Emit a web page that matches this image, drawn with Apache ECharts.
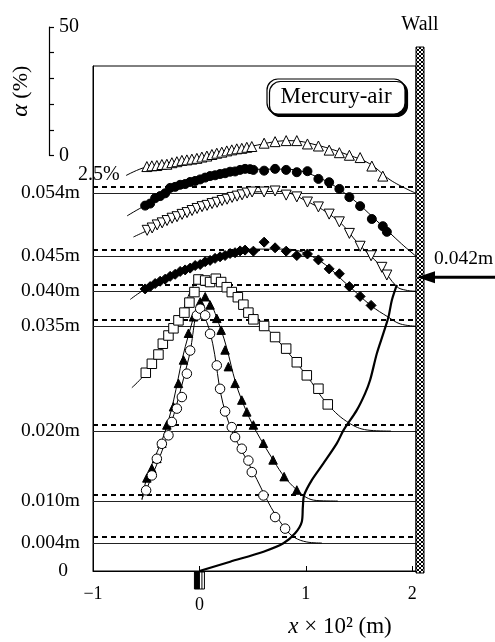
<!DOCTYPE html>
<html><head><meta charset="utf-8">
<script src="https://cdn.jsdelivr.net/npm/echarts@6/dist/echarts.min.js"></script>
<style>html,body{margin:0;padding:0;background:#fff}#c{width:495px;height:642px}</style>
</head><body><div id="c"></div>
<script>
// ---------- data ----------
const heights = [0.054, 0.045, 0.040, 0.035, 0.020, 0.010, 0.004];   // measuring heights (m)
const heightLabels = [0, 0.004, 0.010, 0.020, 0.035, 0.040, 0.045, 0.054];
const xTickLabels = [-1, 0, 1, 2];
const alphaScaleMax = 50;              // α scale bar (%)
const alphaScaleLabels = [0, 50];
const dashOffsetPct = 2.5;             // dashed line = 2.5 % above each level
const wallX = 2.035;                   // wall position (x×10² m)
const inletHeight = 0.042;             // arrow "0.042m"
const yTop = 0.0722;

// △ at 0.054 m
const triUpX = [-0.494,-0.447,-0.400,-0.353,-0.306,-0.259,-0.212,-0.165,-0.118,-0.071,-0.024,0.023,0.070,0.117,0.163,0.210,0.257,0.304,0.351,0.398,0.445,0.492,0.608,0.711,0.815,0.915,1.015,1.118,1.219,1.315,1.409,1.510,1.620,1.723];
const triUpA = [10.4,10.7,10.8,11.2,11.3,11.9,12.3,12.8,13.0,13.3,13.6,14.1,14.5,15.1,15.6,16.0,16.5,16.9,17.3,17.5,17.9,18.2,19.5,20.1,20.5,20.5,19.2,18.4,16.8,15.8,14.8,13.9,10.6,6.7];
const triUpFitX = [-0.69,-0.494,0,0.5,0.85,1.1,1.4,1.6,1.8,2.035];
const triUpFitA = [6.9,10.3,13.8,18.4,20.5,18.8,14.9,11.5,5.0,0];

// ● at 0.045 m
const dotX = [-0.510,-0.463,-0.416,-0.369,-0.322,-0.275,-0.228,-0.181,-0.134,-0.087,-0.040,0.007,0.054,0.100,0.147,0.194,0.241,0.288,0.335,0.382,0.429,0.476,0.507,0.608,0.711,0.815,0.915,1.015,1.118,1.219,1.315,1.409,1.510,1.620,1.723,1.761];
const dotA = [19.7,20.5,22.6,23.4,24.5,26.6,27.0,27.8,28.1,28.9,29.3,29.9,30.6,31.2,31.5,32.0,32.3,32.9,33.0,33.6,34.0,33.9,33.6,33.3,34.0,33.6,32.7,33.1,30.1,28.8,26.2,23.0,19.5,14.5,11.7,9.5];
const dotFitX = [-0.68,-0.51,0,0.5,0.8,1.1,1.4,1.7,1.9,2.035];
const dotFitA = [15.7,19.7,29.8,33.8,33.9,31.0,23.5,12.5,4.8,0];

// ▽ at 0.040 m
const triDnX = [-0.491,-0.444,-0.397,-0.350,-0.304,-0.257,-0.210,-0.163,-0.116,-0.069,-0.022,0.025,0.072,0.119,0.166,0.213,0.260,0.307,0.354,0.401,0.448,0.495,0.608,0.711,0.815,0.915,1.015,1.118,1.219,1.315,1.409,1.510,1.613,1.714,1.761];
const triDnA = [23.7,24.6,25.8,26.6,27.5,28.4,29.0,29.9,30.6,31.4,32.2,32.9,33.4,34.1,34.6,35.3,35.8,36.5,37.0,37.5,38.2,38.6,38.6,39.0,37.4,36.7,34.7,32.8,30.0,27.0,22.5,17.5,13.8,9.3,6.3];
const triDnFitX = [-0.62,-0.49,0,0.5,0.75,1.0,1.3,1.5,1.7,1.855,1.94,2.035];
const triDnFitA = [21.1,23.6,32.5,38.6,38.8,35.2,27.5,18.2,9.9,1.8,0.4,0];

// ◆ at 0.035 m
const diaX = [-0.510,-0.463,-0.416,-0.369,-0.322,-0.275,-0.228,-0.181,-0.134,-0.087,-0.040,0.007,0.054,0.100,0.147,0.194,0.241,0.288,0.335,0.382,0.429,0.507,0.608,0.711,0.815,0.915,1.015,1.118,1.219,1.315,1.409,1.510,1.613];
const diaA = [14.5,15.4,16.6,17.5,18.3,19.4,20.2,21.3,21.9,22.6,23.6,24.0,25.1,25.6,26.4,27.0,27.5,28.3,28.6,29.3,29.6,29.2,32.7,30.5,29.2,27.5,28.1,25.8,22.3,20.4,15.4,11.6,8.1];
const diaFitX = [-0.65,-0.51,0,0.5,0.8,1.1,1.4,1.613,1.776,1.886,2.035];
const diaFitA = [10.4,14.3,24.0,30.0,30.0,26.2,15.8,8.0,3.5,0.9,0];

// □ at 0.020 m
const sqX = [-0.504,-0.447,-0.385,-0.344,-0.291,-0.244,-0.197,-0.141,-0.094,-0.047,-0.009,0.054,0.100,0.154,0.204,0.257,0.304,0.361,0.413,0.460,0.507,0.608,0.711,0.815,0.915,1.009,1.118,1.206];
const sqA = [22.7,26.2,29.8,34.0,37.2,40.0,43.1,46.1,50.0,54.1,59.0,58.6,58.0,59.3,58.0,56.0,54.1,52.1,49.2,46.1,43.5,40.9,36.6,32.1,26.8,21.7,16.5,10.4];
const sqFitX = [-0.635,-0.504,-0.2,0,0.15,0.4,0.7,1.0,1.206,1.416,1.603,1.8];
const sqFitA = [16.9,22.7,43.0,58.5,59.2,50.0,37.0,22.0,10.4,2.9,0.3,0];

// ▲ at 0.010 m
const triFX = [-0.494,-0.447,-0.400,-0.353,-0.306,-0.244,-0.197,-0.150,-0.103,-0.056,0.007,0.054,0.100,0.163,0.204,0.241,0.272,0.335,0.398,0.445,0.507,0.601,0.692,0.796,0.915];
const triFA = [9.0,12.7,16.6,22.5,29.6,36.7,45.8,54.9,65.3,71.7,77.5,79.5,76.3,71.1,66.5,58.8,52.3,45.8,39.3,34.7,29.6,22.5,16.0,9.5,4.3];
const triFFitX = [-0.54,-0.494,-0.3,-0.1,0.05,0.2,0.4,0.7,0.915,1.103,1.3];
const triFFitA = [0.4,9.0,30.0,65.0,79.0,67.0,39.0,15.5,4.3,0.2,0];

// ○ at 0.004 m
const cirX = [-0.501,-0.447,-0.400,-0.353,-0.291,-0.259,-0.212,-0.165,-0.118,-0.087,-0.024,0.007,0.054,0.100,0.163,0.194,0.241,0.304,0.335,0.398,0.460,0.492,0.601,0.711,0.805];
const cirA = [20.5,26.3,32.8,38.6,41.9,47.1,52.3,56.8,65.9,74.9,88.6,91.2,88.6,81.4,69.1,60.0,51.2,45.1,41.2,36.7,32.1,27.6,18.5,10.1,5.6];
const cirFitX = [-0.54,-0.501,-0.3,-0.1,0.0,0.1,0.25,0.5,0.805,1.009,1.15];
const cirFitA = [17.3,20.5,42.0,72.0,90.5,82.0,50.0,28.0,5.6,0.4,0];

// thick curve (interface)
const ifX = [0,0.289,0.602,0.789,0.899,0.962,0.972,0.984,1.056,1.165,1.291,1.353,1.479,1.557,1.604,1.667,1.729,1.776,1.808,1.855];
const ifH = [0,0.00133,0.00276,0.00396,0.00539,0.00704,0.00919,0.01086,0.0130,0.01539,0.01824,0.0201,0.0230,0.0254,0.0273,0.0311,0.0340,0.0363,0.0387,0.0409];

// ---------- layout ----------
const FONT = "'Liberation Serif','Times New Roman',serif";
const G = {left: 93, top: 66, width: 323, height: 505};
const AB = {left: 49, top: 27, width: 10, height: 128.5};
const K = (AB.height / alphaScaleMax) / (G.height / yTop);  // metres per %

const profiles = [
  {x: triUpX, a: triUpA, fx: triUpFitX, fa: triUpFitA, h: heights[0], symbol: 'triangle', size: 10, fill: '#fff', rot: 0},
  {x: dotX, a: dotA, fx: dotFitX, fa: dotFitA, h: heights[1], symbol: 'circle', size: 9, fill: '#000', rot: 0},
  {x: triDnX, a: triDnA, fx: triDnFitX, fa: triDnFitA, h: heights[2], symbol: 'triangle', size: 10, fill: '#fff', rot: 180},
  {x: diaX, a: diaA, fx: diaFitX, fa: diaFitA, h: heights[3], symbol: 'diamond', size: 10, fill: '#000', rot: 0},
  {x: sqX, a: sqA, fx: sqFitX, fa: sqFitA, h: heights[4], symbol: 'rect', size: 9.5, fill: '#fff', rot: 0},
  {x: triFX, a: triFA, fx: triFFitX, fa: triFFitA, h: heights[5], symbol: 'triangle', size: 8.5, fill: '#000', rot: 0},
  {x: cirX, a: cirA, fx: cirFitX, fa: cirFitA, h: heights[6], symbol: 'circle', size: 9.5, fill: '#fff', rot: 0}
];
const toXY = (xs, as, h) => xs.map((x, i) => [x, h + as[i] * K]);

const series = [];
series.push({
  type: 'line', xAxisIndex: 0, yAxisIndex: 0, smooth: 0.3, showSymbol: false, z: 4,
  data: ifX.map((x, i) => [x, ifH[i]]),
  lineStyle: {color: '#000', width: 2.2},
  markLine: {
    silent: true, symbol: ['none', 'none'], label: {show: false}, z: 1, animation: false, precision: 8,
    data: heights.map(h => ({yAxis: h, lineStyle: {color: '#222', width: 1, type: 'solid'}}))
      .concat(heights.map(h => ({yAxis: h + dashOffsetPct * K, lineStyle: {color: '#000', width: 2, type: [5, 4]}})))
  }
});
profiles.forEach(p => {
  series.push({type: 'line', xAxisIndex: 0, yAxisIndex: 0, smooth: 0.4, showSymbol: false, z: 2,
    data: toXY(p.fx, p.fa, p.h), lineStyle: {color: '#000', width: 1}});
});
profiles.forEach(p => {
  series.push({type: 'scatter', xAxisIndex: 0, yAxisIndex: 0, z: 3,
    symbol: p.symbol, symbolSize: p.size, symbolRotate: p.rot,
    data: toXY(p.x, p.a, p.h),
    itemStyle: {color: p.fill, borderColor: '#000', borderWidth: 1, opacity: 1}});
});

const chart = echarts.init(document.getElementById('c'));
chart.setOption({
  animation: false,
  backgroundColor: '#fff',
  grid: [
    Object.assign({show: true, borderColor: '#000', borderWidth: 1, backgroundColor: 'transparent'}, G),
    Object.assign({show: false}, AB)
  ],
  xAxis: [
    {gridIndex: 0, type: 'value', min: -1, max: wallX, interval: 1,
     axisLine: {show: true, onZero: false, lineStyle: {color: '#000', width: 1}},
     axisTick: {show: true, inside: true, length: 5, lineStyle: {color: '#000'}},
     splitLine: {show: false},
     axisLabel: {showMaxLabel: false, color: '#000', fontFamily: FONT, fontSize: 18, margin: 14,
       formatter: v => xTickLabels.indexOf(v) < 0 ? '' : (v < 0 ? '\u2212' + Math.abs(v) : (v === 0 ? '{z|0}' : String(v))),
       rich: {z: {padding: [11, 0, 0, 0], fontFamily: FONT, fontSize: 18, color: '#000'}}}},
    {gridIndex: 1, type: 'value', show: false, min: 0, max: 1}
  ],
  yAxis: [
    {gridIndex: 0, type: 'value', min: 0, max: yTop,
     axisLine: {show: true, onZero: false, lineStyle: {color: '#000'}},
     axisTick: {show: false}, splitLine: {show: false},
     axisLabel: {customValues: heightLabels, color: '#000', fontFamily: FONT, fontSize: 19.5, margin: 13,
       formatter: v => v === 0 ? '{z|0}' : v.toFixed(3) + 'm',
       rich: {z: {padding: [0, 12, 0, 0], fontFamily: FONT, fontSize: 19.5, color: '#000'}}}},
    {gridIndex: 1, type: 'value', min: 0, max: alphaScaleMax, interval: 10,
     axisLine: {show: true, onZero: false, lineStyle: {color: '#000', width: 1.2}},
     axisTick: {show: true, inside: true, length: 5, lineStyle: {color: '#000', width: 1.2}},
     splitLine: {show: false},
     axisLabel: {inside: true, margin: 10, color: '#000', fontFamily: FONT, fontSize: 20,
       formatter: v => alphaScaleLabels.indexOf(v) >= 0 ? String(v) : ''},
     name: '{i|\u03b1} (%)', nameLocation: 'middle', nameGap: 16, nameRotate: 90,
     nameTextStyle: {color: '#000', fontFamily: FONT, fontSize: 22,
       rich: {i: {fontStyle: 'italic', fontFamily: FONT, fontSize: 24, color: '#000'}}}}
  ],
  series: series
});

// ---------- annotations ----------
const pc = document.createElement('canvas'); pc.width = 4; pc.height = 4;
const g2 = pc.getContext('2d');
g2.fillStyle = '#fff'; g2.fillRect(0, 0, 4, 4);
g2.strokeStyle = '#000'; g2.lineWidth = 1;
g2.beginPath(); g2.moveTo(0, 0); g2.lineTo(4, 4); g2.moveTo(4, 0); g2.lineTo(0, 4); g2.stroke();

const wl = chart.convertToPixel({xAxisIndex: 0}, wallX);
const x0 = chart.convertToPixel({xAxisIndex: 0}, 0);
const yb = chart.convertToPixel({yAxisIndex: 0}, 0);
const ya = chart.convertToPixel({yAxisIndex: 0}, inletHeight);
const y54 = chart.convertToPixel({yAxisIndex: 0}, heights[0]);
const txt = (x, y, text, size, align, extra) => Object.assign({type: 'text', x: x, y: y, z: 20,
  style: Object.assign({text: text, fontFamily: FONT, fontSize: size, fill: '#000', align: align || 'left', verticalAlign: 'middle'}, extra || {})});

chart.setOption({graphic: [
  {type: 'rect', z: 15, shape: {x: wl, y: 47, width: 8, height: yb - 47 + 2},
   style: {fill: {type: 'pattern', image: pc, repeat: 'repeat'}, stroke: '#000', lineWidth: 1}},
  txt(wl + 4, 25, 'Wall', 20, 'center'),
  {type: 'line', z: 16, shape: {x1: wl + 16, y1: ya, x2: 495, y2: ya}, style: {stroke: '#000', lineWidth: 3}},
  {type: 'polygon', z: 16, shape: {points: [[wl + 1, ya], [wl + 19, ya - 6], [wl + 19, ya + 6]]}, style: {fill: '#000'}},
  txt(434, ya - 18, '0.042m', 19.5, 'left'),
  {type: 'rect', z: 18, shape: {x: 267, y: 79, width: 138, height: 35, r: 11},
   style: {fill: '#fff', stroke: '#000', lineWidth: 1.2, shadowColor: '#000', shadowOffsetX: 2.5, shadowOffsetY: 2.5, shadowBlur: 0}},
  txt(336, 97, 'Mercury-air', 23, 'center'),
  txt(78, y54 - 19, '2.5%', 20, 'left'),
  {type: 'text', x: 340, y: 627, z: 20, style: {text: '{i|x} \u00d7 10\u00b2 (m)', rich: {i: {fontStyle: 'italic', fontFamily: FONT, fontSize: 23, fill: '#000'}},
    fontFamily: FONT, fontSize: 23, fill: '#000', align: 'center', verticalAlign: 'middle'}},
  {type: 'rect', z: 15, shape: {x: x0 - 5, y: yb + 1, width: 5, height: 17}, style: {fill: '#000', stroke: '#000', lineWidth: 1}},
  {type: 'rect', z: 15, shape: {x: x0, y: yb + 1, width: 5, height: 17}, style: {fill: '#fff', stroke: '#000', lineWidth: 1}},
  {type: 'line', z: 16, shape: {x1: x0 + 2.5, y1: yb + 1, x2: x0 + 2.5, y2: yb + 18}, style: {stroke: '#000', lineWidth: 1}}
]});
</script>
</body></html>
